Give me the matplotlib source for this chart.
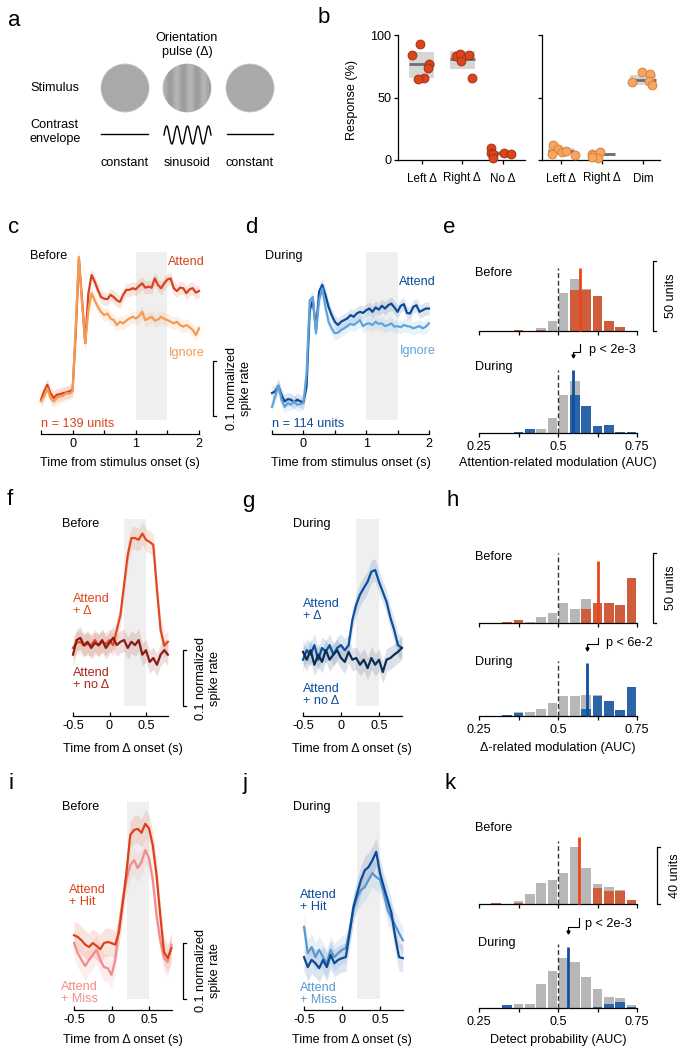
import numpy as np
import matplotlib
matplotlib.use('Agg')
import matplotlib.pyplot as plt
from matplotlib.patches import Circle

plt.rcParams['font.family'] = ['Liberation Sans', 'DejaVu Sans']
FS = 9.1
plt.rcParams['font.size'] = FS
plt.rcParams['axes.linewidth'] = 0.9
plt.rcParams['xtick.major.width'] = 0.9
plt.rcParams['ytick.major.width'] = 0.9

# ------------------------------------------------------------------ data
# panel b (response %, per animal)
b_left_cats = ['Left Δ', 'Right Δ', 'No Δ']
b_left_vals = [[92.5, 83.7, 77, 74, 66, 64.5], [83, 85, 79.5, 84, 66], [10, 6, 5, 2, 6, 4.5]]
b_left_jit = [[-0.04, -0.23, 0.19, 0.17, 0.05, -0.09], [-0.14, -0.04, -0.03, 0.18, 0.24],
              [-0.29, -0.30, -0.24, -0.24, 0.03, 0.20]]
b_left_box = [(66, 76.8, 86.7), (73, 80.5, 87), (2.7, 5.3, 7.5)]
b_right_cats = ['Left Δ', 'Right Δ', 'Dim']
b_right_vals = [[12, 8.5, 6.7, 7.5, 4.8, 4.3], [4.8, 4, 6.4, 1.3, 2.7], [62.7, 70.7, 68.8, 63.5, 60.3]]
b_right_jit = [[-0.19, -0.07, 0.02, 0.12, -0.23, 0.33], [-0.24, -0.19, -0.04, -0.10, -0.24],
               [-0.28, -0.02, 0.16, 0.14, 0.22]]
b_right_box = [(5.3, 7.5, 10), (3.5, 4.5, 5.5), (60, 64, 67.7)]

# panels c, d (time from stimulus onset, -0.5 .. 2.0 s every 0.05 s)
t_stim = np.round(np.arange(-0.5, 2.0001, 0.05), 2)
c_attend = [0.161, 0.176, 0.188, 0.173, 0.164, 0.170, 0.171, 0.173, 0.174, 0.176,
            0.179, 0.282, 0.418, 0.342, 0.264, 0.355, 0.388, 0.376, 0.361, 0.348,
            0.345, 0.344, 0.352, 0.348, 0.342, 0.339, 0.352, 0.361, 0.361, 0.364,
            0.362, 0.368, 0.373, 0.365, 0.367, 0.365, 0.382, 0.370, 0.364, 0.373,
            0.380, 0.382, 0.364, 0.359, 0.365, 0.364, 0.355, 0.362, 0.364, 0.356, 0.359]
c_ignore = [0.158, 0.167, 0.182, 0.164, 0.158, 0.164, 0.167, 0.168, 0.173, 0.172,
            0.176, 0.294, 0.421, 0.336, 0.264, 0.324, 0.355, 0.342, 0.330, 0.321,
            0.315, 0.318, 0.309, 0.306, 0.297, 0.303, 0.300, 0.305, 0.309, 0.312,
            0.309, 0.313, 0.321, 0.306, 0.309, 0.312, 0.305, 0.307, 0.312, 0.308,
            0.306, 0.303, 0.300, 0.303, 0.297, 0.294, 0.297, 0.293, 0.288, 0.279, 0.291]
d_attend = [0.173, 0.176, 0.186, 0.170, 0.158, 0.162, 0.161, 0.156, 0.161, 0.158,
            0.156, 0.185, 0.324, 0.342, 0.288, 0.358, 0.370, 0.352, 0.330, 0.315,
            0.303, 0.297, 0.303, 0.306, 0.309, 0.315, 0.312, 0.318, 0.321, 0.319,
            0.324, 0.327, 0.321, 0.329, 0.325, 0.332, 0.327, 0.333, 0.336, 0.329,
            0.321, 0.332, 0.335, 0.319, 0.318, 0.330, 0.333, 0.321, 0.324, 0.327, 0.327]
d_ignore = [0.148, 0.167, 0.187, 0.161, 0.148, 0.155, 0.152, 0.158, 0.152, 0.153,
            0.155, 0.209, 0.342, 0.348, 0.282, 0.342, 0.364, 0.330, 0.303, 0.291,
            0.282, 0.283, 0.288, 0.291, 0.295, 0.299, 0.297, 0.301, 0.306, 0.295,
            0.299, 0.300, 0.297, 0.303, 0.299, 0.300, 0.295, 0.297, 0.300, 0.294,
            0.295, 0.293, 0.297, 0.295, 0.294, 0.291, 0.293, 0.295, 0.291, 0.294, 0.300]

# panels f, g, i, j (time from Δ onset, -0.5 .. 0.8 s every 0.05 s)
t_delta = np.round(np.arange(-0.5, 0.8001, 0.05), 2)
f_delta = [0.200, 0.209, 0.211, 0.204, 0.207, 0.205, 0.214, 0.204, 0.211, 0.207, 0.214, 0.205, 0.232,
           0.259, 0.313, 0.366, 0.396, 0.396, 0.393, 0.404, 0.393, 0.389, 0.384, 0.304, 0.232, 0.204, 0.211]
f_nodelta = [0.188, 0.214, 0.218, 0.205, 0.211, 0.200, 0.209, 0.205, 0.214, 0.200, 0.209, 0.218, 0.205,
             0.211, 0.214, 0.200, 0.211, 0.205, 0.214, 0.188, 0.196, 0.175, 0.182, 0.170, 0.188, 0.196, 0.188]
g_delta = [0.179, 0.196, 0.188, 0.205, 0.179, 0.200, 0.193, 0.205, 0.188, 0.200, 0.205, 0.196, 0.205,
           0.250, 0.277, 0.295, 0.307, 0.318, 0.336, 0.339, 0.318, 0.300, 0.282, 0.254, 0.232, 0.205, 0.200]
g_nodelta = [0.193, 0.179, 0.196, 0.170, 0.188, 0.175, 0.196, 0.179, 0.188, 0.196, 0.182, 0.175, 0.193,
             0.179, 0.182, 0.170, 0.179, 0.164, 0.182, 0.170, 0.179, 0.157, 0.179, 0.182, 0.188, 0.193, 0.200]
i_hit = [0.205, 0.202, 0.196, 0.188, 0.184, 0.191, 0.186, 0.180, 0.191, 0.193, 0.191, 0.188, 0.211,
         0.263, 0.318, 0.384, 0.393, 0.395, 0.388, 0.404, 0.396, 0.366, 0.313, 0.241, 0.175, 0.164, 0.182]
i_miss = [0.191, 0.173, 0.161, 0.150, 0.161, 0.170, 0.179, 0.161, 0.148, 0.146, 0.134, 0.161, 0.220,
          0.268, 0.304, 0.330, 0.339, 0.325, 0.336, 0.357, 0.343, 0.304, 0.241, 0.196, 0.164, 0.157, 0.188]
j_hit = [0.166, 0.148, 0.161, 0.155, 0.146, 0.161, 0.148, 0.170, 0.155, 0.161, 0.164, 0.166, 0.209,
         0.255, 0.280, 0.304, 0.321, 0.327, 0.339, 0.354, 0.316, 0.291, 0.268, 0.245, 0.202, 0.166, 0.164]
j_miss = [0.220, 0.173, 0.184, 0.166, 0.179, 0.166, 0.155, 0.179, 0.166, 0.173, 0.179, 0.182, 0.214,
          0.250, 0.273, 0.286, 0.291, 0.304, 0.316, 0.309, 0.304, 0.280, 0.250, 0.236, 0.223, 0.209, 0.196]

# histograms: 14 bins from 0.25 to 0.75 (all units / significant units)
e_before_total = [0, 0, 0, 1, 0, 2, 7, 27, 37, 30, 25, 7, 3, 0]
e_before_sig = [0, 0, 0, 1, 0, 1, 0, 0, 29, 29, 25, 7, 3, 0]
e_during_total = [0, 0, 0, 1, 3, 3, 11, 27, 37, 19, 5, 6, 1, 1]
e_during_sig = [0, 0, 0, 1, 3, 0, 0, 0, 27, 19, 5, 6, 1, 1]
h_before_total = [0, 0, 1, 2, 1, 4, 7, 14, 10, 17, 14, 14, 13, 32]
h_before_sig = [0, 0, 1, 2, 0, 0, 0, 0, 0, 10, 14, 14, 13, 32]
h_during_total = [0, 0, 1, 3, 3, 5, 9, 14, 14, 15, 15, 11, 4, 21]
h_during_sig = [0, 0, 1, 2, 0, 0, 0, 0, 0, 5, 14, 11, 4, 21]
k_before_total = [0, 1, 0, 2, 7, 15, 17, 22, 40, 25, 14, 12, 10, 3]
k_before_sig = [0, 1, 0, 1, 0, 0, 0, 0, 0, 0, 11, 9, 9, 3]
k_during_total = [0, 0, 2, 3, 3, 17, 26, 35, 32, 22, 13, 8, 7, 2]
k_during_sig = [0, 0, 2, 0, 0, 0, 0, 0, 0, 0, 1, 3, 4, 1]
medians = {'e_before': (0.569, 45), 'e_during': (0.547, 45),
           'h_before': (0.625, 44), 'h_during': (0.591, 38),
           'k_before': (0.565, 47), 'k_during': (0.531, 43)}

# colours
RED = '#D8431D'; ORANGE = '#F69A52'
BLUE = '#0C4A96'; LBLUE = '#5FA3DA'
F_RED = '#E2471E'; F_DARK = '#8A1C14'
G_BLUE = '#0B4FA0'; G_DARK = '#0B2E55'
I_HIT = '#DC4119'; I_MISS = '#F18C8C'
J_HIT = '#0C4A96'; J_MISS = '#5B97CF'
GRAY = '#B7B7B7'; SIG_RED = '#CF5D3C'; SIG_BLUE = '#2B64A8'

# ------------------------------------------------------------------ layout helpers
W, H = 681, 1050
fig = plt.figure(figsize=(W / 100, H / 100), dpi=100)


def axpx(x0, y0, x1, y1):
    return fig.add_axes([x0 / W, 1 - y1 / H, (x1 - x0) / W, (y1 - y0) / H])


ov = fig.add_axes([0, 0, 1, 1], zorder=10)
ov.axis('off')


def reset_ov():
    ov.set_xlim(0, W)
    ov.set_ylim(H, 0)


reset_ov()


def txt(x, y, s, **kw):
    kw.setdefault('va', 'center')
    kw.setdefault('ha', 'left')
    kw.setdefault('fontsize', FS)
    ov.text(x, y, s, **kw)


def letter(x, y, s):
    ov.text(x, y, s, fontsize=16, ha='left', va='baseline')


def scalebar(x, y0, y1, label, tx):
    ov.plot([x + 3, x, x, x + 3], [y0, y0, y1, y1], color='k', lw=0.9)
    ov.text(tx, (y0 + y1) / 2, label, rotation=90, ha='center', va='center',
            fontsize=FS, linespacing=1.15)


def to_ov(ax, xval):
    disp = ax.transData.transform((xval, 0))
    return ov.transData.inverted().transform(disp)[0]


def trace_panel(rect, xlim, ylim, bounds, ticks, ticklabels, shade, t, series, colors, sem, offset):
    ax = axpx(*rect)
    ax.axvspan(shade[0], shade[1], color='#EFEFEF', lw=0, zorder=0)
    for y, c in zip(series, colors):
        y = np.asarray(y)
        ax.fill_between(t, y - sem, y + sem, color=c, alpha=0.14, lw=0, zorder=1)
    for y, c in zip(series, colors):
        ax.plot(t, y, color=c, lw=1.6, zorder=2)
    ax.set_xlim(*xlim)
    ax.set_ylim(*ylim)
    for s in ['left', 'right', 'top']:
        ax.spines[s].set_visible(False)
    ax.spines['bottom'].set_position(('outward', offset * 0.72))
    ax.spines['bottom'].set_bounds(*bounds)
    ax.set_yticks([])
    ax.set_xticks(ticks)
    ax.set_xticklabels(ticklabels)
    ax.tick_params(axis='x', direction='in', length=3, pad=3, labelsize=FS)
    ax.patch.set_alpha(0)
    return ax


bin_w = 0.5 / 14
centers = 0.25 + bin_w * (np.arange(14) + 0.5)


def hist_panel(rect, total, sig, color, med, med_color, top, dash_h, labels):
    ax = axpx(*rect)
    ax.bar(centers, total, width=bin_w * 0.84, color=GRAY, lw=0, zorder=1)
    ax.bar(centers, sig, width=bin_w * 0.84, color=color, lw=0, zorder=2)
    ax.plot([0.5, 0.5], [0, dash_h], color='#333333', lw=1, ls=(0, (3.5, 2)), clip_on=False, zorder=3)
    ax.plot([med[0], med[0]], [0, med[1]], color=med_color, lw=2, clip_on=False,
            solid_capstyle='butt', zorder=4)
    ax.set_xlim(0.25, 0.75)
    ax.set_ylim(0, top)
    for s in ['left', 'right', 'top']:
        ax.spines[s].set_visible(False)
    ax.set_yticks([])
    ax.set_xticks([0.25, 0.375, 0.5, 0.625, 0.75])
    ax.set_xticklabels(['0.25', '', '0.5', '', '0.75'] if labels else [])
    ax.tick_params(axis='x', direction='out', length=3, pad=3, labelsize=FS)
    ax.patch.set_alpha(0)
    return ax


def b_panel(rect, xlim, cats, vals, jit, box, fc, ec, ylabels):
    ax = axpx(*rect)
    pos = np.arange(1, len(cats) + 1)
    lo = np.array([b[0] for b in box])
    md = np.array([b[1] for b in box])
    hi = np.array([b[2] for b in box])
    ax.bar(pos, hi - lo, bottom=lo, width=0.62, color='#D6D6D6', lw=0, zorder=1)
    ax.hlines(md, pos - 0.31, pos + 0.31, color='#6E6E6E', lw=2, zorder=2)
    for p, v, j in zip(pos, vals, jit):
        ax.scatter(p + np.array(j), v, s=40, facecolor=fc, edgecolor=ec, lw=0.7,
                   zorder=3, clip_on=False)
    ax.set_xlim(*xlim)
    ax.set_ylim(0, 100)
    for s in ['right', 'top']:
        ax.spines[s].set_visible(False)
    ax.set_xticks(pos)
    ax.set_xticklabels(cats)
    ax.set_yticks([0, 50, 100])
    ax.set_yticklabels(['0', '50', '100'] if ylabels else [])
    ax.tick_params(axis='x', direction='out', length=3, pad=6, labelsize=8.4)
    ax.tick_params(axis='y', direction='out', length=3, pad=2, labelsize=FS)
    ax.patch.set_alpha(0)
    return ax


# ------------------------------------------------------------------ panel a
letter(8, 26, 'a')
txt(187, 45, 'Orientation\npulse (Δ)', ha='center', linespacing=1.3)
txt(30, 88, 'Stimulus')
txt(30, 132, 'Contrast\nenvelope', linespacing=1.25)
circles = []
for cx in (125, 187, 250):
    c = Circle((cx, 88), 24, facecolor='#A9A9A9', edgecolor='#C4C4C4', lw=0.6, zorder=2)
    ov.add_patch(c)
    circles.append(c)
gx = np.linspace(0, 1, 80)
grating = 0.66 + 0.05 * np.cos(2 * np.pi * 3.5 * gx)
im = ov.imshow(np.tile(grating, (80, 1)), cmap='gray', vmin=0, vmax=1,
               extent=(163, 211, 112, 64), aspect='auto', zorder=3, interpolation='bilinear')
im.set_clip_path(circles[1])
reset_ov()
ov.plot([101, 148], [134, 134], color='k', lw=1)
ov.plot([227, 273], [134, 134], color='k', lw=1)
u = np.linspace(0, 1, 300)
ov.plot(164 + 47 * u, 135 - 9 * np.sin(2 * np.pi * 4.5 * u), color='k', lw=1)
txt(125, 163, 'constant', ha='center')
txt(187, 163, 'sinusoid', ha='center')
txt(250, 163, 'constant', ha='center')

# ------------------------------------------------------------------ panel b
letter(318, 23, 'b')
b_panel((398, 35, 525, 160), (0.42, 3.55), b_left_cats, b_left_vals, b_left_jit, b_left_box,
        '#DB451D', '#A3300F', True)
b_panel((542, 35, 660, 160), (0.537, 3.415), b_right_cats, b_right_vals, b_right_jit, b_right_box,
        '#F7A662', '#D9803A', False)
txt(352, 100, 'Response (%)', ha='center', rotation=90)

# ------------------------------------------------------------------ panels c, d
stim_ticks = [-0.5, 0, 0.5, 1, 1.5, 2]
stim_labels = ['', '0', '', '1', '', '2']
letter(8, 233, 'c')
trace_panel((37.8, 252, 202.2, 420), (-0.55, 2.05), (0.124, 0.430), (-0.5, 2), stim_ticks, stim_labels,
            (1.0, 1.5), t_stim, [c_attend, c_ignore], [RED, ORANGE], 0.012, 14)
txt(30, 256, 'Before')
txt(205, 262, 'Attend', ha='right', color=RED)
txt(205, 353, 'Ignore', ha='right', color=ORANGE)
txt(41, 424, 'n = 139 units', color=RED)
txt(120, 463, 'Time from stimulus onset (s)', ha='center')
scalebar(213, 361, 416, '0.1 normalized\nspike rate', 239)

letter(245, 233, 'd')
trace_panel((268.9, 252, 432.1, 420), (-0.55, 2.05), (0.124, 0.430), (-0.5, 2), stim_ticks, stim_labels,
            (1.0, 1.5), t_stim, [d_attend, d_ignore], [BLUE, LBLUE], 0.012, 14)
txt(265, 256, 'During')
txt(436, 282, 'Attend', ha='right', color=BLUE)
txt(436, 351, 'Ignore', ha='right', color=LBLUE)
txt(272, 424, 'n = 114 units', color=BLUE)
txt(351, 463, 'Time from stimulus onset (s)', ha='center')

# ------------------------------------------------------------------ panel e
letter(443, 233, 'e')
ax_e1 = hist_panel((479, 261, 637, 331), e_before_total, e_before_sig, SIG_RED,
                   medians['e_before'], '#E8461A', 50, 45, False)
ax_e2 = hist_panel((479, 363, 637, 433), e_during_total, e_during_sig, SIG_BLUE,
                   medians['e_during'], '#0F4FA0', 50, 45, True)
txt(475, 273, 'Before')
txt(475, 367, 'During')
txt(558, 463, 'Attention-related modulation (AUC)', ha='center')
scalebar(653, 261, 331, '50 units', 671)

# ------------------------------------------------------------------ panels f, g
d_ticks = [-0.5, 0, 0.5]
d_labels = ['-0.5', '0', '0.5']
letter(7, 505, 'f')
trace_panel((69.35, 519, 171.55, 706), (-0.55, 0.85), (0.0964, 0.430), (-0.5, 0.8), d_ticks, d_labels,
            (0.2, 0.5), t_delta, [f_delta, f_nodelta], [F_RED, F_DARK], 0.02, 10)
txt(62, 524, 'Before')
txt(73, 605, 'Attend\n+ Δ', color=F_RED, linespacing=1.1)
txt(73, 679, 'Attend\n+ no Δ', color='#A8281C', linespacing=1.1)
txt(123, 749, 'Time from Δ onset (s)', ha='center')
scalebar(183, 650, 706, '0.1 normalized\nspike rate', 208)

letter(242, 507, 'g')
trace_panel((299.2, 519, 405.6, 706), (-0.55, 0.85), (0.0964, 0.430), (-0.5, 0.8), d_ticks, d_labels,
            (0.2, 0.5), t_delta, [g_delta, g_nodelta], [G_BLUE, G_DARK], 0.02, 10)
txt(293, 524, 'During')
txt(303, 610, 'Attend\n+ Δ', color=G_BLUE, linespacing=1.1)
txt(303, 695, 'Attend\n+ no Δ', color=G_BLUE, linespacing=1.1)
txt(352, 749, 'Time from Δ onset (s)', ha='center')

# ------------------------------------------------------------------ panel h
letter(447, 506, 'h')
ax_h1 = hist_panel((479, 553, 637, 623), h_before_total, h_before_sig, SIG_RED,
                   medians['h_before'], '#E8461A', 50, 50, False)
ax_h2 = hist_panel((479, 646, 637, 716), h_during_total, h_during_sig, SIG_BLUE,
                   medians['h_during'], '#0F4FA0', 50, 39, True)
txt(475, 557, 'Before')
txt(475, 662, 'During')
txt(558, 748, 'Δ-related modulation (AUC)', ha='center')
scalebar(653, 553, 623, '50 units', 671)

# ------------------------------------------------------------------ panels i, j
letter(8, 789, 'i')
trace_panel((70.25, 802, 175.25, 999), (-0.55, 0.85), (0.0911, 0.443), (-0.5, 0.8), d_ticks, d_labels,
            (0.2, 0.5), t_delta, [i_miss, i_hit], [I_MISS, I_HIT], 0.025, 11)
txt(62, 807, 'Before')
txt(69, 896, 'Attend\n+ Hit', color=I_HIT, linespacing=1.1)
txt(61, 993, 'Attend\n+ Miss', color=I_MISS, linespacing=1.1)
txt(123, 1040, 'Time from Δ onset (s)', ha='center')
scalebar(183, 943, 999, '0.1 normalized\nspike rate', 208)

letter(242, 789, 'j')
trace_panel((300.2, 802, 406.6, 999), (-0.55, 0.85), (0.0911, 0.443), (-0.5, 0.8), d_ticks, d_labels,
            (0.2, 0.5), t_delta, [j_miss, j_hit], [J_MISS, J_HIT], 0.025, 11)
txt(293, 807, 'During')
txt(300, 901, 'Attend\n+ Hit', color=J_HIT, linespacing=1.1)
txt(300, 994, 'Attend\n+ Miss', color=J_MISS, linespacing=1.1)
txt(352, 1040, 'Time from Δ onset (s)', ha='center')

# ------------------------------------------------------------------ panel k
letter(445, 789, 'k')
ax_k1 = hist_panel((479, 847, 637, 904), k_before_total, k_before_sig, SIG_RED,
                   medians['k_before'], '#E8461A', 40, 44, False)
ax_k2 = hist_panel((479, 951, 637, 1008), k_during_total, k_during_sig, SIG_BLUE,
                   medians['k_during'], '#0F4FA0', 40, 45, True)
txt(475, 828, 'Before')
txt(478, 943, 'During')
txt(558, 1040, 'Detect probability (AUC)', ha='center')
scalebar(657, 847, 904, '40 units', 675)


# p-value brackets linking the before / during medians
def pbracket(ax_b, ax_d, mb, md, y_top, y_mid, y_bot, label, lx, ly):
    xb = to_ov(ax_b, mb)
    xd = to_ov(ax_d, md)
    ov.plot([xb, xb, xd, xd], [y_top, y_mid, y_mid, y_bot], color='k', lw=0.8)
    ov.plot([xd], [y_bot], marker='v', ms=2.2, color='k')
    txt(lx, ly, label)


pbracket(ax_e1, ax_e2, medians['e_before'][0], medians['e_during'][0], 344, 352, 356, 'p < 2e-3', 589, 350)
pbracket(ax_h1, ax_h2, medians['h_before'][0], medians['h_during'][0], 638, 644, 649, 'p < 6e-2', 606, 643)
pbracket(ax_k1, ax_k2, medians['k_before'][0], medians['k_during'][0], 918, 927, 932, 'p < 2e-3', 585, 924)

reset_ov()
fig.savefig('out.png', dpi=100)
